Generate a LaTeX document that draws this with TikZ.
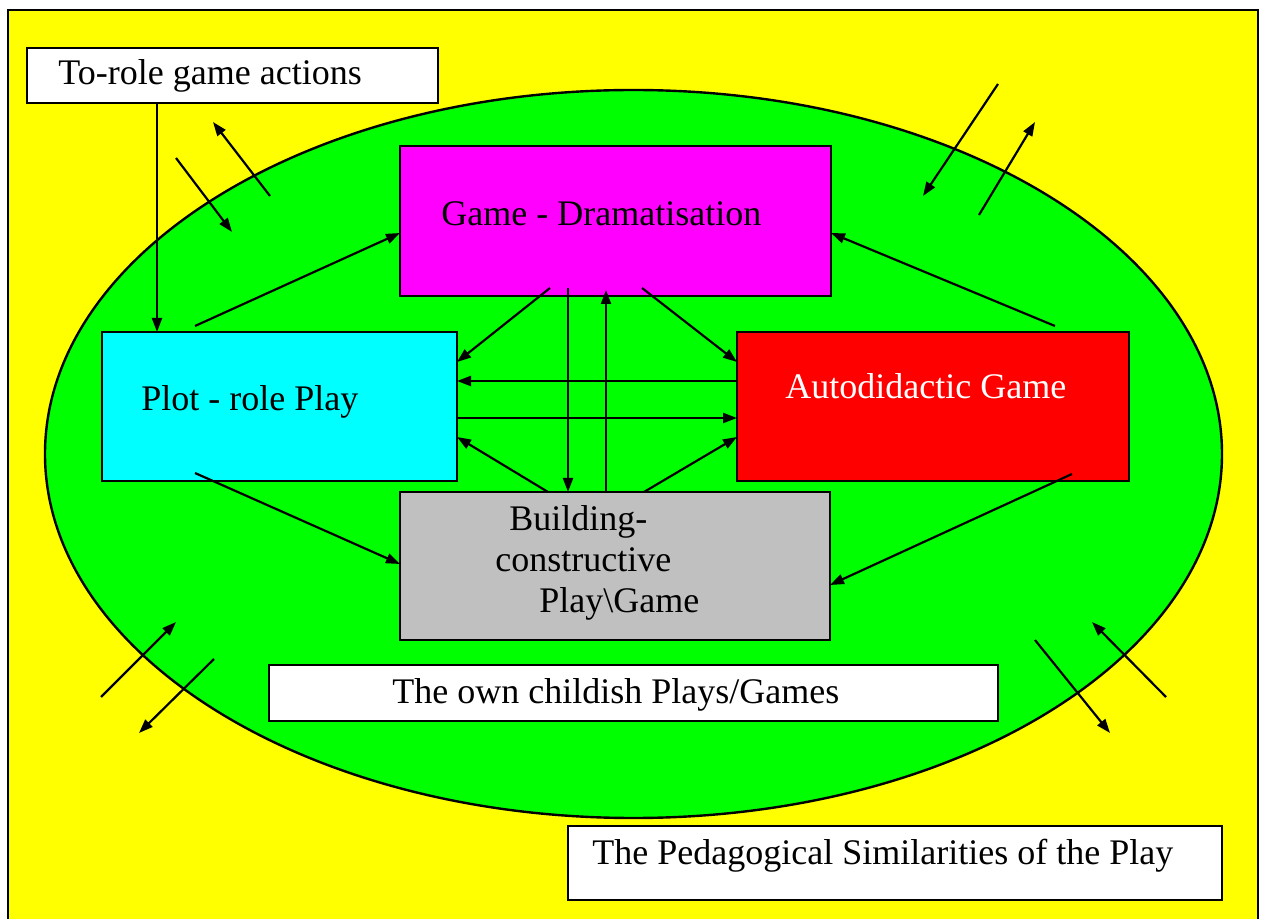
\documentclass[tikz,border=0pt]{standalone}
\usepackage{fontspec}
\setmainfont{Liberation Serif}
\usetikzlibrary{arrows.meta,calc}
\definecolor{yel}{HTML}{FFFF00}
\definecolor{grn}{HTML}{00FF00}
\definecolor{mag}{HTML}{FF00FF}
\definecolor{cyn}{HTML}{00FFFF}
\definecolor{rd}{HTML}{FF0000}
\definecolor{gry}{HTML}{C0C0C0}
\begin{document}
\begin{tikzpicture}[x=0.5pt,y=-0.5pt,
  box/.style={draw=black, line width=1.2pt, inner sep=0pt, outer sep=0pt, anchor=north west},
  txt/.style={inner sep=0pt, anchor=base west, font=\fontsize{18}{20.7}\selectfont},
  arr/.style={line width=1.1pt, -{Triangle[length=7pt,width=5pt]}}]
\useasboundingbox (0,0) rectangle (1265,919);
\fill[white] (0,0) rectangle (1265,919);
% background
\draw[fill=yel, line width=1.2pt] (8,10) rectangle (1258,960);
\draw[fill=grn, line width=1.2pt] (633.5,454) ellipse [x radius=294.25pt, y radius=182pt];
% boxes
\node[box, fill=white, minimum width=205.5pt, minimum height=27.5pt] (torole) at (27,48) {};
\node[box, fill=mag, minimum width=215.5pt, minimum height=75pt] (game) at (400,146) {};
\node[box, fill=cyn, minimum width=177.5pt, minimum height=74.5pt] (plot) at (102,332) {};
\node[box, fill=rd, minimum width=196pt, minimum height=74.5pt] (auto) at (737,332) {};
\node[box, fill=gry, minimum width=215pt, minimum height=74pt] (build) at (400,492) {};
\node[box, fill=white, minimum width=364.5pt, minimum height=28pt] (own) at (269,665) {};
\node[box, fill=white, minimum width=327pt, minimum height=37pt] (ped) at (568,826) {};
% texts
\node[txt] (toroletxt) at (58,85) {To-role game actions};
\node[txt] (gametxt) at (441,226) {Game - Dramatisation};
\node[txt] (plottxt) at (141,411) {Plot - role Play};
\node[txt, text=white] (autotxt) at (785,399) {Autodidactic Game};
\node[txt] (buildtxta) at (509,531) {Building-};
\node[txt] (buildtxtb) at (495,572) {constructive};
\node[txt] (buildtxtc) at (539,613) {Play\textbackslash Game};
\node[txt] (owntxt) at (392,704) {The own childish Plays/Games};
\node[txt] (pedtxt) at (592,864) {The Pedagogical Similarities of the Play};
% connectors between boxes
\draw[arr] ($(torole.south west)+(130,0)$) -- ($(plot.north west)+(55,0)$);
\draw[arr] ($(plot.north west)+(93,-6)$) -- ($(game.south west)+(0,-63)$);
\draw[arr] ($(game.south west)+(150,-8)$) -- ($(plot.north east)+(0,30)$);
\draw[arr] ($(game.south west)+(168,-8)$) -- ($(build.north west)+(168,0)$);
\draw[arr] ($(build.north west)+(206,0)$) -- ($(game.south west)+(206,-6)$);
\draw[arr] ($(game.south west)+(242,-8)$) -- ($(auto.north west)+(0,30)$);
\draw[arr] ($(auto.north west)+(0,49)$) -- ($(plot.north east)+(0,49)$);
\draw[arr] ($(plot.north east)+(0,86)$) -- ($(auto.north west)+(0,86)$);
\draw[arr] ($(build.north west)+(148,0)$) -- ($(plot.north east)+(0,105)$);
\draw[arr] ($(build.north west)+(244,0)$) -- ($(auto.north west)+(0,105)$);
\draw[arr] ($(auto.north west)+(318,-6)$) -- ($(game.north east)+(0,87)$);
\draw[arr] ($(plot.south west)+(93,-8)$) -- ($(build.north west)+(0,72)$);
\draw[arr] ($(auto.south west)+(335,-7)$) -- ($(build.north east)+(0,93)$);
% free arrows across the ellipse border
\coordinate (a1s) at (270,196); \coordinate (a1e) at (213,122);
\coordinate (a2s) at (176,158); \coordinate (a2e) at (232,232);
\coordinate (a3s) at (998,84);  \coordinate (a3e) at (923,196);
\coordinate (a4s) at (979,215); \coordinate (a4e) at (1035,122);
\coordinate (a5s) at (101,697); \coordinate (a5e) at (176,622);
\coordinate (a6s) at (214,659); \coordinate (a6e) at (139,733);
\coordinate (a7s) at (1035,640); \coordinate (a7e) at (1110,733);
\coordinate (a8s) at (1166,697); \coordinate (a8e) at (1092,622);
\foreach \i in {1,...,8} {\draw[arr] (a\i s) -- (a\i e);}
\end{tikzpicture}
\end{document}
